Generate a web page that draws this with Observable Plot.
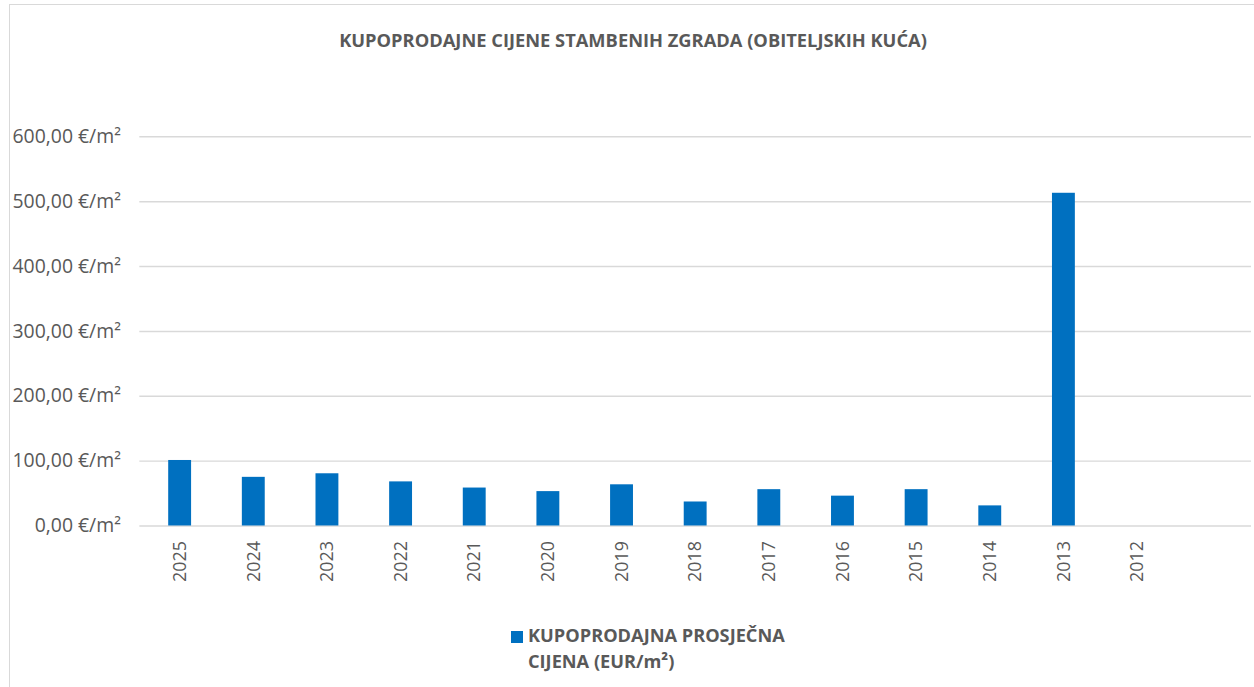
<!DOCTYPE html>
<html>
<head>
<meta charset="utf-8">
<script src="https://cdn.jsdelivr.net/npm/d3@7"></script>
<script src="https://cdn.jsdelivr.net/npm/@observablehq/plot@0.6"></script>
<style>
  html, body { margin: 0; padding: 0; background: #fff; overflow: hidden; width: 1254px; height: 687px; }
  #frame { position: absolute; left: 9px; top: 4px; width: 1300px; height: 720px; border: 1.5px solid #d9d9d9; box-sizing: border-box; }
  #title { position: absolute; left: 0; width: 1266px; top: 27px; text-align: center; font: bold 18.3px "Open Sans", sans-serif; color: #595959; }
  #chart { position: absolute; left: 0; top: 0; }
  #legend { position: absolute; left: 511px; top: 622px; font: bold 18.2px "Open Sans", sans-serif; color: #595959; line-height: 26px; }
  #legend .sw { position: absolute; left: 0; top: 9px; width: 12px; height: 12px; background: #0070c0; }
  #legend .tx { position: absolute; left: 17px; top: 0; white-space: nowrap; }
</style>
</head>
<body>
<div id="frame"></div>
<div id="title">KUPOPRODAJNE CIJENE STAMBENIH ZGRADA (OBITELJSKIH KUĆA)</div>
<div id="chart"></div>
<div id="legend"><div class="sw"></div><div class="tx">KUPOPRODAJNA PROSJEČNA<br>CIJENA (EUR/m²)</div></div>
<script>
const years = ["2025","2024","2023","2022","2021","2020","2019","2018","2017","2016","2015","2014","2013","2012"];
const prices = [101, 75, 80.5, 68, 58.5, 53, 63.5, 37, 56, 46, 56, 31, 513, 0];
const yTicks = [0, 100, 200, 300, 400, 500, 600];
const seriesName = "KUPOPRODAJNA PROSJEČNA CIJENA (EUR/m²)";

const data = years.map((y, i) => ({year: y, price: prices[i]}));
const xDomain = [...years, ""]; // trailing empty slot as in the original category axis

const fmt = d => d.toFixed(2).replace(".", ",") + " €/m²";

const chart = Plot.plot({
  width: 1260,
  height: 600,
  marginLeft: 140,
  marginRight: 3,
  marginTop: 137,
  marginBottom: 72,
  style: { fontFamily: "'Open Sans', sans-serif", fontSize: "18px", color: "#595959", background: "transparent", overflow: "visible" },
  x: { domain: xDomain, paddingInner: 0.69, paddingOuter: 0.345, align: 0.5 },
  y: { domain: [0, 600] },
  marks: [
    Plot.gridY(yTicks, { stroke: "#d9d9d9", strokeOpacity: 1, strokeWidth: 1.5 }),
    Plot.barY(data, { x: "year", y: "price", fill: "#0070c0", title: d => `${seriesName}: ${fmt(d.price)}` }),
    Plot.axisY({ ticks: yTicks, tickFormat: fmt, tickSize: 0, tickPadding: 19, fill: "#595959", fontSize: 19.5, label: null }),
    Plot.axisX({ tickRotate: -90, tickSize: 0, tickPadding: 15, fill: "#595959", fontSize: 18, label: null, tickFormat: d => d })
  ]
});
document.getElementById("chart").appendChild(chart);
</script>
</body>
</html>
